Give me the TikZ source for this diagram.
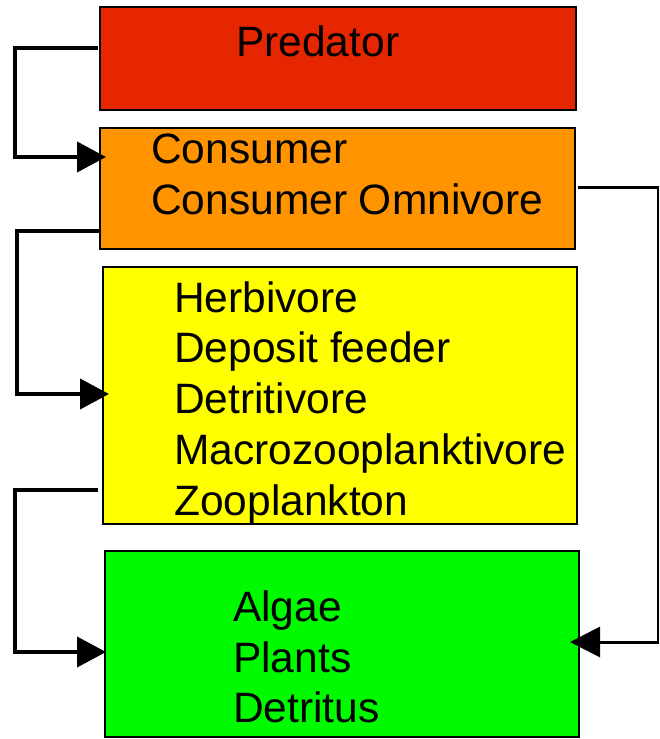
\documentclass[tikz,border=0pt]{standalone}
\usepackage{fontspec}
\setmainfont{Liberation Sans}
\usetikzlibrary{arrows.meta}
\definecolor{predred}{HTML}{E52600}
\definecolor{consorange}{HTML}{FF9400}
\definecolor{herbyellow}{HTML}{FFFF00}
\definecolor{plantgreen}{HTML}{00FA00}
\tikzset{
  box/.style={draw=black, line width=2pt, rectangle, inner sep=0pt, outer sep=0pt, anchor=north west},
  lbl/.style={anchor=base west, inner sep=0pt, font=\fontsize{42.5}{51}\selectfont},
  conn/.style={draw=black, line width=4pt, -{Triangle[length=29pt,width=30pt]}},
  rconn/.style={draw=black, line width=3pt},
  rthin/.style={draw=black, line width=1.5pt},
}
\begin{document}
\begin{tikzpicture}[x=1pt,y=-1pt]
\useasboundingbox (0,0) rectangle (659,739);
% boxes
\node[box, fill=predred, minimum width=476pt, minimum height=103pt] (pred) at (100,7) {};
\node[box, fill=consorange, minimum width=475pt, minimum height=121pt] (cons) at (100,128) {};
\node[box, fill=herbyellow, minimum width=474pt, minimum height=257pt] (herb) at (103,267) {};
\node[box, fill=plantgreen, minimum width=474pt, minimum height=186pt] (plant) at (105,551) {};
% texts
\node[lbl] (t1) at (236,56) {Predator};
\node[lbl] (t2) at (151,163) {Consumer};
\node[lbl] (t3) at (151,214) {Consumer Omnivore};
\node[lbl] (t4) at (174,312) {Herbivore};
\node[lbl] (t5) at (174,362) {Deposit feeder};
\node[lbl] (t6) at (174,413) {Detritivore};
\node[lbl] (t7) at (174,464) {Macrozooplanktivore};
\node[lbl] (t8) at (174,515) {Zooplankton};
\node[lbl] (t9) at (233,621) {Algae};
\node[lbl] (t10) at (233,672) {Plants};
\node[lbl] (t11) at (233,722) {Detritus};
% left connectors
\coordinate (a1) at ([yshift=-41pt]pred.north west);
\coordinate (a2) at ([yshift=-29pt]cons.north west);
\draw[conn, shorten >=-6pt] ([xshift=-2pt]a1) -- (15,48) |- (a2);
\coordinate (b1) at ([yshift=-103pt]cons.north west);
\coordinate (b2) at ([yshift=-127pt]herb.north west);
\draw[conn, shorten >=-6pt] (b1) -- (17,231) |- (b2);
\coordinate (c1) at ([yshift=-223pt]herb.north west);
\coordinate (c2) at ([yshift=-101pt]plant.north west);
\draw[conn, shorten >=-1pt] ([xshift=-5pt]c1) -- (15,490) |- (c2);
% right connector
\coordinate (r0) at ([xshift=3pt,yshift=1.5pt]cons.east);
\coordinate (r1) at (658,187);
\coordinate (r2) at (658,642);
\coordinate (r3) at ([yshift=2pt]plant.east);
\draw[rconn] (r0) -- ([xshift=0.75pt]r1);
\draw[rthin] (r1) -- (r2);
\draw[rconn, -{Triangle[length=30pt,width=30pt]}, shorten >=-9pt] ([xshift=0.75pt]r2) -- (r3);
\end{tikzpicture}
\end{document}
